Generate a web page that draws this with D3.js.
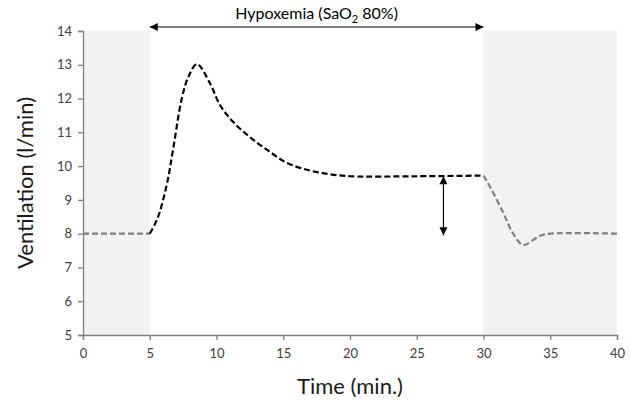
<!DOCTYPE html>
<html>
<head>
<meta charset="utf-8">
<script src="https://cdn.jsdelivr.net/npm/d3@7"></script>
<style>
  body { margin: 0; background: #fff; }
  text { font-family: Lato, "Open Sans", sans-serif; }
</style>
</head>
<body>
<div id="chart"></div>
<script>
// data
const baseTime = [0, 5];
const baseVent = [8, 8];
const hypoxTime = [5, 5.6, 6.3, 6.75, 7.4, 7.9, 8.54, 9.5, 10.26, 11.24, 12.5, 13.8, 15.3, 17, 18.5, 20, 25, 30];
const hypoxVent = [8, 8.47, 9.5, 10.5, 12, 12.65, 13.02, 12.46, 11.81, 11.31, 10.86, 10.48, 10.09, 9.87, 9.76, 9.7, 9.7, 9.72];
const recovTime = [30, 30.5, 31.5, 32.2, 32.96, 34.2, 35, 40];
const recovVent = [9.72, 9.38, 8.6, 8.02, 7.67, 7.93, 8, 8];
const shaded = [[0, 5], [30, 40]];
const xTicks = [0, 5, 10, 15, 20, 25, 30, 35, 40];
const yTicks = [5, 6, 7, 8, 9, 10, 11, 12, 13, 14];
const hypoxRange = [5, 30];
const arrowTime = 27, arrowFrom = 9.7, arrowTo = 7.95;

const width = 630, height = 410;
const margin = {left: 83, right: 13, top: 31, bottom: 75};

const svg = d3.select('#chart').append('svg')
  .attr('width', width).attr('height', height);

const x = d3.scaleLinear().domain([0, 40]).range([margin.left, width - margin.right]);
const y = d3.scaleLinear().domain([5, 14]).range([height - margin.bottom, margin.top]);

const defs = svg.append('defs');
defs.append('marker')
  .attr('id', 'head')
  .attr('viewBox', '0 0 10 10')
  .attr('refX', 10).attr('refY', 5)
  .attr('markerWidth', 10).attr('markerHeight', 8)
  .attr('markerUnits', 'userSpaceOnUse')
  .attr('orient', 'auto-start-reverse')
  .append('path').attr('d', 'M0,0 L10,5 L0,10 Z').attr('fill', '#000');

// grey background bands
svg.selectAll('rect.band').data(shaded).enter().append('rect')
  .attr('class', 'band')
  .attr('x', d => x(d[0]))
  .attr('y', y(14))
  .attr('width', d => x(d[1]) - x(d[0]))
  .attr('height', y(5) - y(14))
  .attr('fill', '#f2f2f2');

// axes
const xAxis = svg.append('g')
  .attr('transform', `translate(0,${y(5)})`)
  .call(d3.axisBottom(x).tickValues(xTicks).tickSize(5).tickPadding(9));
const yAxis = svg.append('g')
  .attr('transform', `translate(${x(0)},0)`)
  .call(d3.axisLeft(y).tickValues(yTicks).tickSize(5).tickPadding(6));
[xAxis, yAxis].forEach(g => {
  g.select('.domain').attr('stroke', '#7f7f7f').attr('stroke-width', 1.3);
  g.selectAll('.tick line').attr('stroke', '#7f7f7f').attr('stroke-width', 1.3);
  g.selectAll('.tick text').attr('fill', '#404040').style('font-size', '13px')
    .style('font-family', 'Lato, "Open Sans", sans-serif');
});

const line = d3.line().x(d => x(d[0])).y(d => y(d[1])).curve(d3.curveCatmullRom.alpha(0.5));

svg.append('path')
  .datum(d3.zip(baseTime, baseVent))
  .attr('d', line).attr('fill', 'none')
  .attr('stroke', '#7f7f7f').attr('stroke-width', 2.2).attr('stroke-dasharray', '6,3');
svg.append('path')
  .datum(d3.zip(recovTime, recovVent))
  .attr('d', line).attr('fill', 'none')
  .attr('stroke', '#7f7f7f').attr('stroke-width', 2.2).attr('stroke-dasharray', '6,3');
svg.append('path')
  .datum(d3.zip(hypoxTime, hypoxVent))
  .attr('d', line).attr('fill', 'none')
  .attr('stroke', '#000').attr('stroke-width', 2.2).attr('stroke-dasharray', '6,3');

// double-headed arrows
svg.append('line')
  .attr('x1', x(hypoxRange[0])).attr('x2', x(hypoxRange[1]))
  .attr('y1', 27).attr('y2', 27)
  .attr('stroke', '#000').attr('stroke-width', 1.2)
  .attr('marker-start', 'url(#head)').attr('marker-end', 'url(#head)');
svg.append('line')
  .attr('x1', x(arrowTime)).attr('x2', x(arrowTime))
  .attr('y1', y(arrowFrom)).attr('y2', y(arrowTo))
  .attr('stroke', '#000').attr('stroke-width', 1.2)
  .attr('marker-start', 'url(#head)').attr('marker-end', 'url(#head)');

// title text
const t = svg.append('text')
  .attr('x', x(d3.mean(hypoxRange))).attr('y', 19)
  .attr('text-anchor', 'middle')
  .style('font-size', '16px').attr('fill', '#000');
t.append('tspan').text('Hypoxemia (SaO');
t.append('tspan').attr('dy', 4).style('font-size', '11px').text('2');
t.append('tspan').attr('dy', -4).text(' 80%)');

// axis titles
svg.append('text')
  .attr('x', x(20)).attr('y', 394)
  .attr('text-anchor', 'middle')
  .style('font-size', '22px').attr('fill', '#1a1a1a')
  .text('Time (min.)');
svg.append('text')
  .attr('transform', `translate(33,${y(9.5)}) rotate(-90)`)
  .attr('text-anchor', 'middle')
  .style('font-size', '22px').attr('fill', '#1a1a1a')
  .text('Ventilation (l/min)');
</script>
</body>
</html>
